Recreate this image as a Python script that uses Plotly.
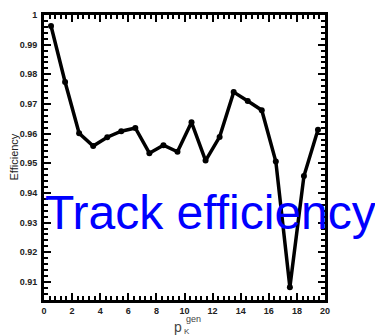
import plotly.graph_objects as go

p_bins = [0.5, 1.5, 2.5, 3.5, 4.5, 5.5, 6.5, 7.5, 8.5, 9.5,
          10.5, 11.5, 12.5, 13.5, 14.5, 15.5, 16.5, 17.5, 18.5, 19.5]
efficiency = [0.9963, 0.9774, 0.9601, 0.9558, 0.9588, 0.9608, 0.9619, 0.9534, 0.9561, 0.9539,
              0.9638, 0.9509, 0.9589, 0.9740, 0.9710, 0.9679, 0.9506, 0.9082, 0.9457, 0.9613]
y_tickvals = [0.91, 0.92, 0.93, 0.94, 0.95, 0.96, 0.97, 0.98, 0.99, 1.0]
y_ticktext = ["0.91", "0.92", "0.93", "0.94", "0.95", "0.96", "0.97", "0.98", "0.99", "1"]
x_tickvals = [0, 2, 4, 6, 8, 10, 12, 14, 16, 18, 20]

fig = go.Figure()
fig.add_trace(go.Scatter(
    x=p_bins, y=efficiency, mode="lines+markers",
    line=dict(color="black", width=3.5),
    marker=dict(color="black", size=6),
    showlegend=False, cliponaxis=False,
))

tickfont = dict(family="Liberation Sans, Arial, sans-serif", size=9, color="#222", weight="bold")

fig.update_xaxes(
    range=[0, 20], tickvals=x_tickvals, ticktext=[str(v) for v in x_tickvals],
    showgrid=False, zeroline=False,
    showline=True, linecolor="black", linewidth=3, mirror="allticks",
    ticks="inside", ticklen=7, tickwidth=2, tickcolor="black",
    minor=dict(ticks="inside", ticklen=4, tickwidth=2, tickcolor="black", dtick=0.4, tick0=0, showgrid=False),
    tickfont=tickfont, ticklabelstandoff=0,
)
fig.update_yaxes(
    range=[0.9039, 1.0], tickvals=y_tickvals, ticktext=y_ticktext,
    showgrid=False, zeroline=False,
    showline=True, linecolor="black", linewidth=3, mirror="allticks",
    ticks="inside", ticklen=7, tickwidth=2, tickcolor="black",
    minor=dict(ticks="inside", ticklen=4, tickwidth=2, tickcolor="black", dtick=0.002, tick0=0.9, showgrid=False),
    tickfont=tickfont, ticklabelstandoff=2,
)

annotations = [
    dict(text="Track efficiency", x=210, y=211, showarrow=False,
         font=dict(family="Liberation Sans, Arial, sans-serif", size=48, color="blue")),
    dict(text="Efficiency", textangle=-90, x=13, y=155, showarrow=False,
         font=dict(family="Liberation Sans, Arial, sans-serif", size=11, color="#222")),
    dict(text="p", x=178, y=327, showarrow=False,
         font=dict(family="Liberation Sans, Arial, sans-serif", size=14, color="#444")),
    dict(text="gen", x=193, y=319, showarrow=False,
         font=dict(family="Liberation Sans, Arial, sans-serif", size=9, color="#444")),
    dict(text="K", x=187, y=332, showarrow=False,
         font=dict(family="Liberation Sans, Arial, sans-serif", size=8, color="#444")),
]
# convert pixel positions to paper coordinates
W, H = 375, 336
L, R, T, B = 44, 50, 10, 36
pw, ph = W - L - R, H - T - B
for a in annotations:
    a["x"] = (a["x"] - L) / pw
    a["y"] = 1 - (a["y"] - T) / ph
    a["xref"] = "paper"
    a["yref"] = "paper"
    a["xanchor"] = "center"
    a["yanchor"] = "middle"
    a["borderpad"] = 0

fig.update_layout(
    width=W, height=H,
    margin=dict(l=L, r=R, t=T, b=B),
    paper_bgcolor="white", plot_bgcolor="white",
    annotations=annotations,
)

fig.write_html("out.html")
